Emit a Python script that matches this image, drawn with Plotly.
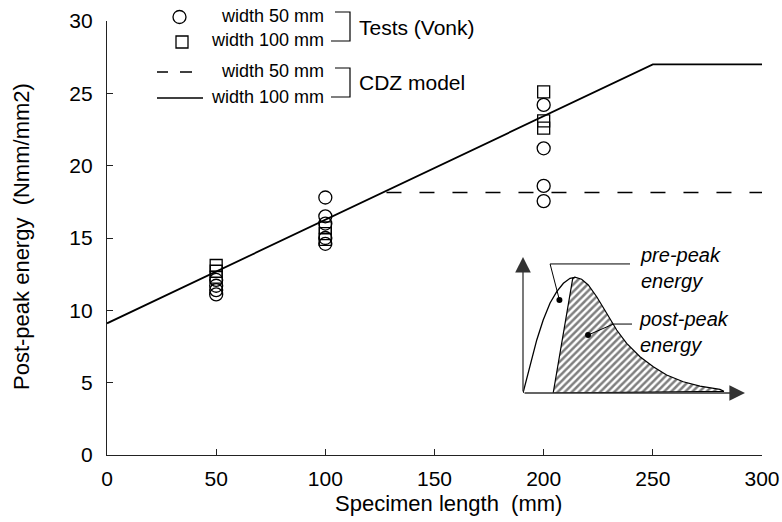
import plotly.graph_objects as go

# ---------------- data ----------------
x_ticks = [0, 50, 100, 150, 200, 250, 300]
y_ticks = [0, 5, 10, 15, 20, 25, 30]

# Tests (Vonk), width 50 mm (circles)
test50_len = [50, 50, 50, 50, 100, 100, 100, 100, 100, 200, 200, 200, 200]
test50_energy = [12.1, 11.7, 11.4, 11.1, 17.8, 16.5, 16.0, 15.0, 14.6, 24.2, 21.2, 18.6, 17.55]

# Tests (Vonk), width 100 mm (squares)
test100_len = [50, 50, 50, 100, 100, 100, 200, 200, 200]
test100_energy = [13.1, 12.7, 12.3, 15.7, 15.3, 14.9, 25.1, 23.1, 22.6]

# CDZ model
model100_len = [0, 250, 300]
model100_energy = [9.1, 27.0, 27.0]
model50_len = [128, 300]
model50_energy = [18.15, 18.15]

# Inset schematic (normalised units)
pre_u = [0.0, 0.032, 0.062, 0.091, 0.122, 0.152, 0.182, 0.212, 0.234]
pre_v = [0.0, 0.191, 0.390, 0.537, 0.662, 0.745, 0.807, 0.843, 0.851]
hatch_u = [0.136, 0.224, 0.234, 0.264, 0.294, 0.332, 0.377, 0.422, 0.467, 0.527,
           0.587, 0.647, 0.722, 0.797, 0.887, 0.905, 0.136]
hatch_v = [0.0, 0.843, 0.851, 0.836, 0.794, 0.708, 0.586, 0.463, 0.365, 0.267,
           0.193, 0.132, 0.083, 0.051, 0.027, 0.012, 0.0]
dot_u = [0.164, 0.293]
dot_v = [0.684, 0.426]
lead_pre_u = [0.164, 0.122, 0.482]
lead_pre_v = [0.684, 0.949, 0.949]
lead_post_u = [0.293, 0.407, 0.491]
lead_post_v = [0.426, 0.507, 0.507]

FONT = "Liberation Sans, Arial, Helvetica, sans-serif"

# plot area in window pixels: x 107..762, y 21..455
def px(x):
    return (x - 107) / 655.0

def py(y):
    return (455 - y) / 434.0

fig = go.Figure()

fig.add_trace(go.Scatter(x=model100_len, y=model100_energy, mode="lines",
                         line=dict(color="black", width=1.8), showlegend=False))
fig.add_trace(go.Scatter(x=model50_len, y=model50_energy, mode="lines",
                         line=dict(color="black", width=1.4, dash="15px,18px"),
                         showlegend=False))
fig.add_trace(go.Scatter(x=test50_len, y=test50_energy, mode="markers",
                         marker=dict(symbol="circle-open", size=13, color="black",
                                     line=dict(width=1.3)), showlegend=False))
fig.add_trace(go.Scatter(x=test100_len, y=test100_energy, mode="markers",
                         marker=dict(symbol="square-open", size=12, color="black",
                                     line=dict(width=1.3)), showlegend=False))

# inset
fig.add_trace(go.Scatter(x=hatch_u, y=hatch_v, xaxis="x2", yaxis="y2", mode="lines",
                         fill="toself", fillcolor="white",
                         fillpattern=dict(shape="/", size=5, solidity=0.5,
                                          fgcolor="black", bgcolor="white"),
                         line=dict(color="black", width=1.2), showlegend=False))
fig.add_trace(go.Scatter(x=pre_u, y=pre_v, xaxis="x2", yaxis="y2", mode="lines",
                         line=dict(color="black", width=1.3), showlegend=False))
fig.add_trace(go.Scatter(x=lead_pre_u, y=lead_pre_v, xaxis="x2", yaxis="y2", mode="lines",
                         line=dict(color="black", width=1), showlegend=False))
fig.add_trace(go.Scatter(x=lead_post_u, y=lead_post_v, xaxis="x2", yaxis="y2", mode="lines",
                         line=dict(color="black", width=1), showlegend=False))
fig.add_trace(go.Scatter(x=dot_u, y=dot_v, xaxis="x2", yaxis="y2", mode="markers",
                         marker=dict(size=6, color="black"), showlegend=False))

annotations = []
# inset arrows
annotations.append(dict(x=0, y=1.0, ax=0, ay=0, xref="x2", yref="y2", axref="x2", ayref="y2",
                        showarrow=True, arrowhead=2, arrowsize=2.4, arrowwidth=1.3,
                        arrowcolor="#333", text=""))
annotations.append(dict(x=1.0, y=0, ax=0, ay=0, xref="x2", yref="y2", axref="x2", ayref="y2",
                        showarrow=True, arrowhead=2, arrowsize=2.4, arrowwidth=1.3,
                        arrowcolor="#333", text=""))
annotations.append(dict(x=0.518, y=0.92, xref="x2", yref="y2", xanchor="left", yanchor="middle",
                        text="<i>pre-peak<br>energy</i>", showarrow=False, align="left",
                        font=dict(family=FONT, size=20, color="black")))
annotations.append(dict(x=0.514, y=0.45, xref="x2", yref="y2", xanchor="left", yanchor="middle",
                        text="<i>post-peak<br>energy</i>", showarrow=False, align="left",
                        font=dict(family=FONT, size=20, color="black")))
annotations.append(dict(x=-0.08, y=0.757, xref="x2", yref="y2", xanchor="center", yanchor="middle",
                        text="σ<sub>c</sub>", showarrow=False,
                        font=dict(family=FONT, size=20, color="black")))
annotations.append(dict(x=0.856, y=-0.162, xref="x2", yref="y2", xanchor="center", yanchor="middle",
                        text="ΔL", showarrow=False,
                        font=dict(family=FONT, size=20, color="black")))

# axis titles
annotations.append(dict(x=px(448), y=py(503), xref="paper", yref="paper", xanchor="center",
                        yanchor="middle", text="Specimen length  (mm)", showarrow=False,
                        font=dict(family=FONT, size=22, color="black")))
annotations.append(dict(x=px(22), y=py(237), xref="paper", yref="paper", xanchor="center",
                        yanchor="middle", text="Post-peak energy  (Nmm/mm2)", showarrow=False,
                        textangle=-90, font=dict(family=FONT, size=22, color="black")))

# legend texts
for txt, yy in [("width 50 mm", 16), ("width 100 mm", 40), ("width 50 mm", 71), ("width 100 mm", 97)]:
    annotations.append(dict(x=px(326), y=py(yy), xref="paper", yref="paper", xanchor="right",
                            yanchor="middle", text=txt, showarrow=False,
                            font=dict(family=FONT, size=18, color="black")))
annotations.append(dict(x=px(357), y=py(27), xref="paper", yref="paper", xanchor="left",
                        yanchor="middle", text="Tests (Vonk)", showarrow=False,
                        font=dict(family=FONT, size=21, color="black")))
annotations.append(dict(x=px(357), y=py(82), xref="paper", yref="paper", xanchor="left",
                        yanchor="middle", text="CDZ model", showarrow=False,
                        font=dict(family=FONT, size=21, color="black")))

shapes = []
def bracket(ytop, ybot):
    return dict(type="path", xref="paper", yref="paper",
                path=f"M {px(335)} {py(ytop)} L {px(350)} {py(ytop)} L {px(350)} {py(ybot)} L {px(331)} {py(ybot)}",
                line=dict(color="black", width=1.2))
shapes.append(bracket(12, 41))
shapes.append(bracket(68, 97))
shapes.append(dict(type="circle", xref="paper", yref="paper", xsizemode="pixel", ysizemode="pixel",
                   xanchor=px(179.5), yanchor=py(17), x0=-6.5, x1=6.5, y0=-6.5, y1=6.5,
                   line=dict(color="black", width=1.3)))
shapes.append(dict(type="rect", xref="paper", yref="paper", xsizemode="pixel", ysizemode="pixel",
                   xanchor=px(182), yanchor=py(42), x0=-6, x1=6, y0=-6, y1=6,
                   line=dict(color="black", width=1.3)))
for x0, x1 in [(157, 168), (180, 192)]:
    shapes.append(dict(type="line", xref="paper", yref="paper", x0=px(x0), x1=px(x1),
                       y0=py(72), y1=py(72), line=dict(color="black", width=1.5)))
shapes.append(dict(type="line", xref="paper", yref="paper", x0=px(157), x1=px(203),
                   y0=py(98), y1=py(98), line=dict(color="black", width=1.5)))

axis_common = dict(ticks="inside", ticklen=6, tickwidth=1.2, tickcolor="#222",
                   showline=True, linecolor="#222", linewidth=1.2, showgrid=False,
                   zeroline=False, automargin=False,
                   tickfont=dict(family=FONT, size=21, color="black"))

fig.update_layout(
    width=782, height=522,
    margin=dict(l=107, r=20, t=21, b=67, autoexpand=False),
    paper_bgcolor="white", plot_bgcolor="white",
    showlegend=False,
    xaxis=dict(range=[0, 300], tickvals=x_ticks, ticklabelstandoff=5, **axis_common),
    yaxis=dict(range=[0, 30], tickvals=y_ticks, ticklabelstandoff=9, **axis_common),
    xaxis2=dict(domain=[px(523), px(745)], range=[0, 1], anchor="y2", visible=False),
    yaxis2=dict(domain=[py(393), py(257)], range=[0, 1], anchor="x2", visible=False),
    annotations=annotations,
    shapes=shapes,
)

fig.write_html("out.html", config={"displayModeBar": False},
               post_script="document.body.style.margin='0';document.body.style.overflow='hidden';")
